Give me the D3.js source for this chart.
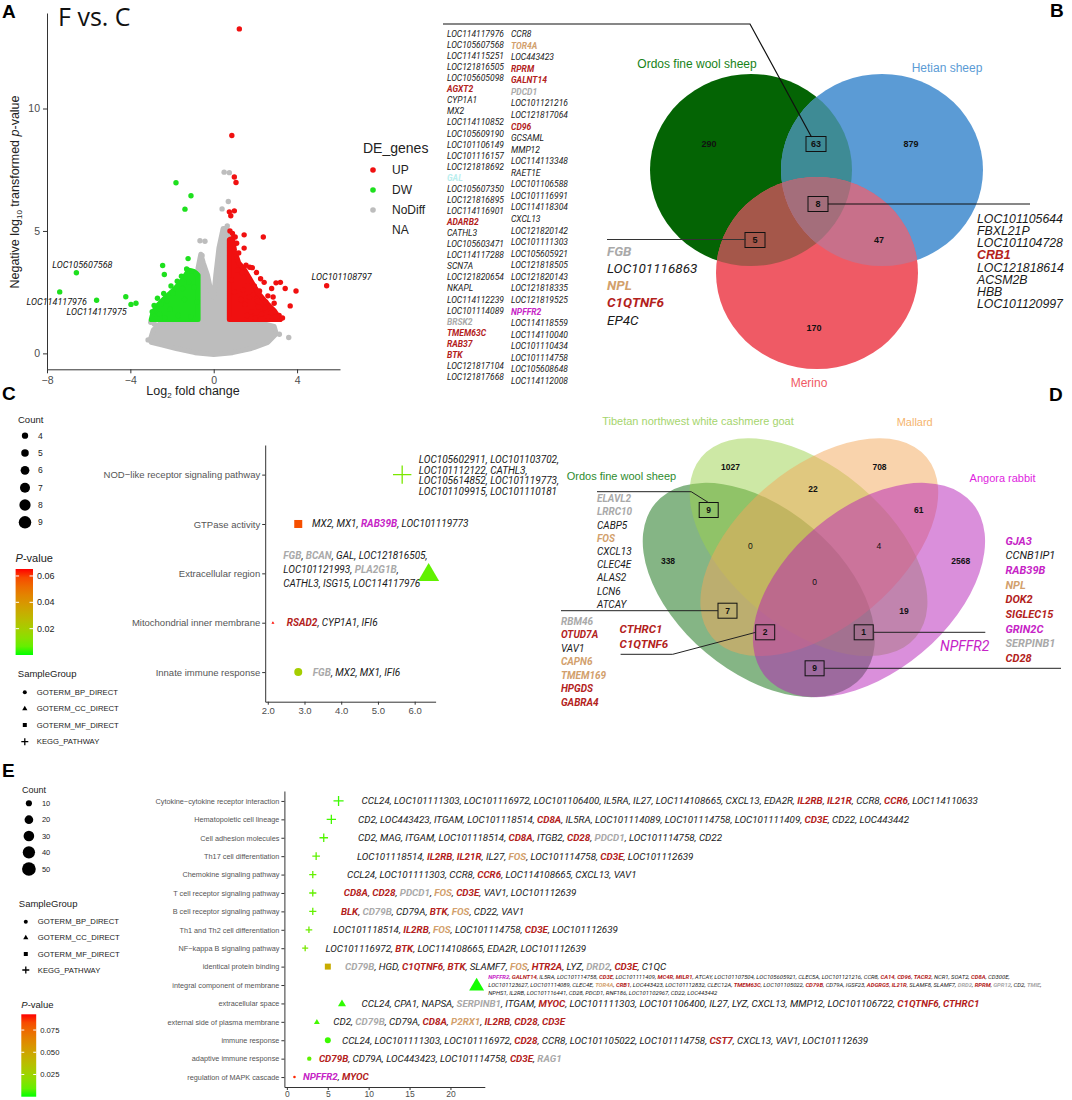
<!DOCTYPE html>
<html>
<head>
<meta charset="utf-8">
<script src="https://cdn.jsdelivr.net/npm/d3@7"></script>
<style>
  body { margin: 0; background: #fff; }
  text { font-family: "Liberation Sans", Arial, sans-serif; }
  .gene { font-family: Roboto, "Liberation Sans", sans-serif; font-style: italic; }
</style>
</head>
<body>
<svg id="fig" width="1072" height="1100"></svg>
<script>
// ---------------- data ----------------
// A: volcano (log2 fold change, -log10 p)
const upPoints = [[1.23,13.25],[0.87,8.9],[0.99,7.2],[1.07,6.98],[0.75,5.78],[0.99,5.82],[0.82,5.62],[0.78,5.0],
  [1.03,4.75],[1.46,4.84],[2.38,4.75],[1.46,4.3],[1.73,3.52],[1.85,3.5],[5.42,2.76],[3.95,2.55],[3.43,2.65],
  [2.99,2.88],[3.2,2.9],[3.67,1.94],[3.14,1.55],[2.42,2.9],[2.78,2.65],[2.05,3.3],[2.25,3.05],[1.95,2.75],
  [2.6,2.35],[2.9,2.05],[2.45,1.85],[2.1,2.15],[1.65,2.95],[1.35,3.3],[2.2,2.55],[2.75,1.65],[1.8,1.7],
  [3.0,1.5],[2.6,1.5],[2.3,1.6],[1.55,3.6],[1.2,4.1],[1.1,4.5],[0.9,4.9],[1.3,2.2],[1.0,2.5],[1.5,2.0],
  [1.7,2.3],[2.0,1.45],[2.85,2.3],[2.5,2.1],[3.3,1.45],[2.15,1.9],[1.9,2.4],[1.4,2.6],[0.85,3.0],[1.15,3.4],[1.6,1.55]];
const downPoints = [[-1.81,6.97],[-1.09,6.44],[-1.38,5.89],[-1.23,3.87],[-2.45,3.59],[-2.37,3.22],[-6.59,3.29],
  [-7.39,2.51],[-5.62,2.17],[-4.22,2.31],[-3.97,2.0],[-3.73,2.05],[-2.86,1.96],[-1.3,3.45],[-1.05,3.35],
  [-0.85,3.25],[-1.55,3.15],[-1.75,2.95],[-2.05,2.75],[-1.5,2.65],[-2.4,2.45],[-2.7,2.25],[-2.25,2.15],
  [-2.95,1.7],[-2.6,1.6],[-2.35,1.45],[-1.95,2.45],[-1.2,2.9],[-0.95,2.7],[-2.1,1.8],[-1.7,1.55],[-1.1,1.5],
  [-2.55,2.0],[-1.4,2.2],[-0.8,2.1]];
const noDiffPoints = [[0.5,7.4],[0.75,7.38],[0.7,6.2],[0.4,5.9],[-0.66,4.6],[-0.42,4.58],[-0.56,4.0],
  [-3.15,0.55],[3.15,0.78],[3.6,0.65],[-3.02,1.27],[0.65,5.2],[-2.85,1.2]];
// outlines of the dense point clouds
const noDiffHull = [[-3.05,0.55],[-2.9,0.95],[-2.6,1.2],[-2.0,1.35],[-0.8,1.4],[-0.75,3.5],[-0.62,4.05],[-0.5,3.7],
  [-0.3,3.2],[-0.15,2.6],[0,2.3],[0.1,3.2],[0.25,4.3],[0.45,5.1],[0.6,5.1],[0.72,4.6],[0.75,1.35],[2.0,1.3],
  [2.9,1.1],[3.0,0.8],[2.6,0.45],[1.8,0.2],[0.9,0.03],[0,-0.05],[-0.9,0.03],[-1.8,0.2],[-2.5,0.35],[-3.0,0.45]];
const upHull = [[0.75,1.38],[0.75,4.65],[0.9,4.7],[1.0,4.2],[1.2,3.7],[1.45,3.45],[1.7,3.1],[1.9,2.8],
  [2.2,2.4],[2.6,2.0],[2.9,1.75],[3.2,1.38]];
const downHull = [[-0.75,1.38],[-0.75,3.2],[-0.95,3.35],[-1.2,3.4],[-1.5,3.0],[-1.9,2.6],[-2.3,2.3],
  [-2.65,2.0],[-2.9,1.7],[-3.0,1.38]];
const namedGenes = ["LOC105607568","LOC114117976","LOC114117975","LOC101108797"];
const namedFc = [-6.59,-7.39,-5.62,5.42];
const namedP = [3.29,2.51,2.17,2.76];
const deClasses = ["UP","DW","NoDiff","NA"];

// 63 genes shared by Ordos fine wool sheep and Hetian sheep ("|r" red, "|t" tan, "|g" grey, "|m" magenta, "|c" cyan)
const shared63a = ["LOC114117976","LOC105607568","LOC114115251","LOC121816505","LOC105605098","AGXT2|r","CYP1A1","MX2",
  "LOC114110852","LOC105609190","LOC101106149","LOC101116157","LOC121818692","GAL|c","LOC105607350","LOC121816895",
  "LOC114116901","ADARB2|r","CATHL3","LOC105603471","LOC114117288","SCN7A","LOC121820654","NKAPL","LOC114112239",
  "LOC101114089","BRSK2|g","TMEM63C|r","RAB37|r","BTK|r","LOC121817104","LOC121817668"];
const shared63b = ["CCR8","TOR4A|t","LOC443423","RPRM|r","GALNT14|r","PDCD1|g","LOC101121216","LOC121817064","CD96|r",
  "GCSAML","MMP12","LOC114113348","RAET1E","LOC101106588","LOC101116991","LOC114118304","CXCL13","LOC121820142",
  "LOC101111303","LOC105605921","LOC121818505","LOC121820143","LOC121818335","LOC121819525","NPFFR2|m",
  "LOC114118559","LOC114110040","LOC101110434","LOC101114758","LOC105608648","LOC114112008"];

// B: three-set Venn
const vennBSets = ["Ordos fine wool sheep","Hetian sheep","Merino"];
const vennBCounts = [290, 63, 879, 8, 5, 47, 170];
const vennB5Genes = ["FGB|g","LOC101116863","NPL|t","C1QTNF6|r","EP4C"];
const vennB8Genes = ["LOC101105644","FBXL21P","LOC101104728","CRB1|r","LOC121818614","ACSM2B","HBB","LOC101120997"];

// D: four-set Venn
const vennDSets = ["Ordos fine wool sheep","Tibetan northwest white cashmere goat","Mallard","Angora rabbit"];
const vennDCounts = [1027, 708, 22, 61, 9, 0, 4, 338, 2568, 0, 19, 7, 2, 1, 9];
const vennD9Genes = ["ELAVL2|g","LRRC10|g","CABP5","FOS|t","CXCL13","CLEC4E","ALAS2","LCN6","ATCAY"];
const vennD7Genes = ["RBM46|g","OTUD7A|r","VAV1","CAPN6|t","TMEM169|t","HPGDS|r","GABRA4|r"];
const vennD2Genes = ["CTHRC1|r","C1QTNF6|r"];
const vennD1Genes = ["NPFFR2|m"];
const vennD9bGenes = ["GJA3|m","CCNB1IP1","RAB39B|m","NPL|t","DOK2|r","SIGLEC15|r","GRIN2C|m","SERPINB1|g","CD28|r"];

// C / E: enrichment
const BP = "GOTERM_BP_DIRECT", CC = "GOTERM_CC_DIRECT", MF = "GOTERM_MF_DIRECT", KG = "KEGG_PATHWAY";
const sampleGroups = [BP, CC, MF, KG];

const cTerms = ["NOD−like receptor signaling pathway","GTPase activity","Extracellular region",
  "Mitochondrial inner membrane","Innate immune response"];
const cGroup = [KG, MF, CC, CC, BP];
const cEnrich = [5.66, 2.83, 6.38, 2.14, 2.83];
const cCount = [8, 4, 9, 3, 4];
const cPval = [0.010, 0.058, 0.006, 0.065, 0.020];
const cGenes = [
  [["LOC105602911","LOC101103702"],["LOC101112122","CATHL3"],["LOC105614852","LOC101119773"],["LOC101109915","LOC101110181"]],
  [["MX2","MX1","RAB39B|m","LOC101119773"]],
  [["FGB|g","BCAN|g","GAL","LOC121816505"],["LOC101121993","PLA2G1B|g"],["CATHL3","ISG15","LOC114117976"]],
  [["RSAD2|r","CYP1A1","IFI6"]],
  [["FGB|g","MX2","MX1","IFI6"]]
];
const cCountTicks = [4, 5, 6, 7, 8, 9];
const cPTicks = [0.02, 0.04, 0.06];
const cXTicks = [2, 3, 4, 5, 6];

const eTerms = ["Cytokine−cytokine receptor interaction","Hematopoietic cell lineage","Cell adhesion molecules",
  "Th17 cell differentiation","Chemokine signaling pathway","T cell receptor signaling pathway",
  "B cell receptor signaling pathway","Th1 and Th2 cell differentiation","NF−kappa B signaling pathway",
  "identical protein binding","integral component of membrane","extracellular space",
  "external side of plasma membrane","immune response","adaptive immune response","regulation of MAPK cascade"];
const eGroup = [KG, KG, KG, KG, KG, KG, KG, KG, KG, MF, CC, CC, CC, BP, BP, BP];
const eEnrich = [6.32, 5.44, 4.51, 3.58, 3.17, 3.17, 3.17, 2.70, 2.24, 5.01, 23.2, 6.74, 3.67, 5.01, 2.74, 0.93];
const eCount = [14, 12, 10, 8, 7, 7, 7, 6, 5, 11, 52, 15, 8, 11, 6, 2];
const ePval = [0.003, 0.004, 0.006, 0.008, 0.009, 0.009, 0.009, 0.011, 0.014, 0.046, 0.0005, 0.002, 0.004, 0.003, 0.008, 0.09];
const eGenes = [
  [["CCL24","LOC101111303","LOC101116972","LOC101106400","IL5RA","IL27","LOC114108665","CXCL13","EDA2R","IL2RB|r","IL21R|r","CCR8","CCR6|r","LOC114110633"]],
  [["CD2","LOC443423","ITGAM","LOC101118514","CD8A|r","IL5RA","LOC101114089","LOC101114758","LOC101111409","CD3E|r","CD22","LOC443442"]],
  [["CD2","MAG","ITGAM","LOC101118514","CD8A|r","ITGB2","CD28|r","PDCD1|g","LOC101114758","CD22"]],
  [["LOC101118514","IL2RB|r","IL21R|r","IL27","FOS|t","LOC101114758","CD3E|r","LOC101112639"]],
  [["CCL24","LOC101111303","CCR8","CCR6|r","LOC114108665","CXCL13","VAV1"]],
  [["CD8A|r","CD28|r","PDCD1|g","FOS|t","CD3E|r","VAV1","LOC101112639"]],
  [["BLK|r","CD79B|g","CD79A","BTK|r","FOS|t","CD22","VAV1"]],
  [["LOC101118514","IL2RB|r","FOS|t","LOC101114758","CD3E|r","LOC101112639"]],
  [["LOC101116972","BTK|r","LOC114108665","EDA2R","LOC101112639"]],
  [["CD79B|g","HGD","C1QTNF6|r","BTK|r","SLAMF7","FOS|t","HTR2A|r","LYZ","DRD2|g","CD3E|r","C1QC"]],
  [["NPFFR2|m","GALNT14|r","IL5RA","LOC101114758","CD3E|r","LOC101111409","MC4R|r","MILR1|r","ATCAY","LOC101107504",
    "LOC105605921","CLEC5A","LOC101121216","CCR8","CA14|r","CD96|r","TACR2|r","NCR1","SOAT2","CD8A|r","CD300E"],
   ["LOC101123627","LOC101114089","CLEC4E","TOR4A|t","CRB1|r","LOC443423","LOC101112832","CLEC12A","TMEM63C|r",
    "LOC101105022","CD79B|r","CD79A","IGSF23","ADGRG5|r","IL21R|r","SLAMF8","SLAMF7","DRD2|g","RPRM|r","GPR12|g","CD2","TMIE|g"],
   ["NPHS1","IL2RB","LOC101116441","CD28","PDCD1","RNF186","LOC101102967","CD22","LOC443442"]],
  [["CCL24","CPA1","NAPSA","SERPINB1|g","ITGAM","MYOC|r","LOC101111303","LOC101106400","IL27","LYZ","CXCL13","MMP12","LOC101106722","C1QTNF6|r","CTHRC1|r"]],
  [["CD2","CD79B|g","CD79A","CD8A|r","P2RX1|t","IL2RB|r","CD28|r","CD3E|r"]],
  [["CCL24","LOC101111303","LOC101116972","CD28|r","CCR8","LOC101105022","LOC101114758","CST7|r","CXCL13","VAV1","LOC101112639"]],
  [["CD79B|r","CD79A","LOC443423","LOC101114758","CD3E|r","RAG1|g"]],
  [["NPFFR2|m","MYOC|r"]]
];
const eCountTicks = [10, 20, 30, 40, 50];
const ePTicks = [0.025, 0.050, 0.075];
const eXTicks = [0, 5, 10, 15, 20];

// ---------------- helpers ----------------
const svg = d3.select("#fig");
const defs = svg.append("defs");
const tagColor = { k: "#1a1a1a", r: "#b3221c", t: "#d2a06c", g: "#a9a9a9", m: "#c624c6", c: "#b9eeee" };

function geneLine(g, x, y, genes, fs, comma, family) {
  const t = g.append("text").attr("x", x).attr("y", y).attr("dy", "0.35em")
    .attr("class", "gene").attr("font-size", fs).attr("fill", tagColor.k);
  if (family) t.style("font-family", family);
  genes.forEach((s, i) => {
    const [name, tag = "k"] = s.split("|");
    t.append("tspan").text(name).attr("fill", tagColor[tag]).attr("font-weight", tag === "k" ? null : "bold");
    if (comma && (i < genes.length - 1 || comma === "trail")) t.append("tspan").text(", ");
  });
  return t;
}

function geneColumn(g, x, y0, y1, genes, fs, family) {
  const y = d3.scalePoint().domain(d3.range(genes.length)).range([y0, y1]);
  genes.forEach((s, i) => geneLine(g, x, y(i), [s], fs, false, family));
}

function panelLetter(t, x, y) {
  svg.append("text").attr("x", x).attr("y", y).attr("font-size", 19).attr("font-weight", "bold").text(t);
}

function styleAxis(a, fs, col) {
  a.select(".domain").attr("stroke", "#333");
  a.selectAll(".tick line").attr("stroke", "#333");
  a.selectAll("text").attr("fill", col || "#4d4d4d").attr("font-size", fs)
    .attr("font-family", "Liberation Sans, Arial, sans-serif");
}

function marker(g, shape, x, y, h, color) {
  if (shape === BP) g.append("circle").attr("cx", x).attr("cy", y).attr("r", h).attr("fill", color);
  else if (shape === CC) g.append("path").attr("d", `M${x - h},${y + h * 0.72}L${x + h},${y + h * 0.72}L${x},${y - h * 0.98}Z`).attr("fill", color);
  else if (shape === MF) g.append("rect").attr("x", x - h).attr("y", y - h).attr("width", 2 * h).attr("height", 2 * h).attr("fill", color);
  else g.append("path").attr("d", `M${x - h},${y}H${x + h}M${x},${y - h}V${y + h}`).attr("stroke", color).attr("stroke-width", 1.3);
}

// ---------------- panel A ----------------
panelLetter("A", 2, 18);
const A = svg.append("g");
const ax = d3.scaleLinear().domain([-8, 6.06]).range([47, 340]);
const ay = d3.scaleLinear().domain([-0.65, 13.9]).range([369.3, 13]);
const deColor = { UP: "#f01010", DW: "#1ee01e", NoDiff: "#bdbdbd" };

A.append("text").attr("x", 58).attr("y", 26).attr("font-size", 25).style("font-family", "Open Sans, sans-serif")
  .attr("fill", "#111").text("F vs. C");

const hullLine = d3.line().x(d => ax(d[0])).y(d => ay(d[1])).curve(d3.curveLinearClosed);
[[noDiffHull, deColor.NoDiff]].forEach(([h, c]) =>
  A.append("path").attr("d", hullLine(h)).attr("fill", c).attr("stroke", c).attr("stroke-width", 5).attr("stroke-linejoin", "round"));
A.append("g").selectAll("circle").data(noDiffPoints).join("circle")
  .attr("cx", d => ax(d[0])).attr("cy", d => ay(d[1])).attr("r", 2.7).attr("fill", deColor.NoDiff);
[[downHull, deColor.DW], [upHull, deColor.UP]].forEach(([h, c]) =>
  A.append("path").attr("d", hullLine(h)).attr("fill", c).attr("stroke", c).attr("stroke-width", 5).attr("stroke-linejoin", "round"));
A.append("g").selectAll("circle").data(downPoints).join("circle")
  .attr("cx", d => ax(d[0])).attr("cy", d => ay(d[1])).attr("r", 2.7).attr("fill", deColor.DW);
A.append("g").selectAll("circle").data(upPoints).join("circle")
  .attr("cx", d => ax(d[0])).attr("cy", d => ay(d[1])).attr("r", 2.7).attr("fill", deColor.UP);

// gene names next to the extreme points
const nameOffset = [[6, -5, "middle"], [-3, 13, "middle"], [0, 15, "middle"], [15, -6, "middle"]];
namedGenes.forEach((n, i) => {
  A.append("text").attr("class", "gene").attr("font-size", 9).attr("fill", "#111")
    .attr("text-anchor", nameOffset[i][2])
    .attr("x", ax(namedFc[i]) + nameOffset[i][0]).attr("y", ay(namedP[i]) + nameOffset[i][1]).text(n);
});

const axA = A.append("g").attr("transform", "translate(0,369.3)")
  .call(d3.axisBottom(ax).tickValues([-8, -4, 0, 4]).tickSize(4).tickSizeOuter(0));
const ayA = A.append("g").attr("transform", "translate(47,0)")
  .call(d3.axisLeft(ay).tickValues([0, 5, 10]).tickSize(4).tickSizeOuter(0));
styleAxis(axA, 10.5); styleAxis(ayA, 10.5);

const xl = A.append("text").attr("x", 193).attr("y", 395).attr("text-anchor", "middle").attr("font-size", 12.5).attr("fill", "#222");
xl.append("tspan").text("Log");
xl.append("tspan").text("2").attr("font-size", 8).attr("dy", 3);
xl.append("tspan").text(" fold change").attr("dy", -3);
const yl = A.append("text").attr("transform", "translate(19,192) rotate(-90)").attr("text-anchor", "middle")
  .attr("font-size", 12.5).attr("fill", "#222");
yl.append("tspan").text("Negative log");
yl.append("tspan").text("10").attr("font-size", 8).attr("dy", 3);
yl.append("tspan").text(" transformed ").attr("dy", -3);
yl.append("tspan").text("p").attr("font-style", "italic");
yl.append("tspan").text("-value");

// legend
A.append("text").attr("x", 363).attr("y", 153).attr("font-size", 14).attr("fill", "#222").text("DE_genes");
const legY = d3.scalePoint().domain(deClasses).range([170, 230]);
deClasses.forEach(c => {
  if (deColor[c]) A.append("circle").attr("cx", 373).attr("cy", legY(c)).attr("r", 2.8).attr("fill", deColor[c]);
  A.append("text").attr("x", 392).attr("y", legY(c)).attr("dy", "0.35em").attr("font-size", 12).attr("fill", "#222").text(c);
});

// ---------------- gene column + panel B ----------------
panelLetter("B", 1050, 17);
const B = svg.append("g");
geneColumn(B, 447, 34, 377, shared63a, 8.5);
geneColumn(B, 511, 34, 381, shared63b, 8.5);

const bGeo = [{ cx: 751, cy: 170 }, { cx: 882, cy: 170 }, { cx: 817, cy: 273 }];
const bRx = 101, bRy = 96;
const bColor = ["#046404", "#5b9bd5", "#ef5a65"];
const bMix = { GB: "#3e8b95", GR: "#a5574a", BR: "#c8708a", GBR: "#a46e7b" };
bGeo.forEach((c, i) => defs.append("clipPath").attr("id", "bclip" + i)
  .append("ellipse").attr("cx", c.cx).attr("cy", c.cy).attr("rx", bRx).attr("ry", bRy));
function bEllipse(g, i, fill, clip) {
  const e = g.append("ellipse").attr("cx", bGeo[i].cx).attr("cy", bGeo[i].cy).attr("rx", bRx).attr("ry", bRy).attr("fill", fill);
  if (clip != null) e.attr("clip-path", `url(#bclip${clip})`);
  return e;
}
bColor.forEach((c, i) => bEllipse(B, i, c));
bEllipse(B, 1, bMix.GB, 0);
bEllipse(B, 2, bMix.GR, 0);
bEllipse(B, 2, bMix.BR, 1);
bEllipse(B.append("g").attr("clip-path", "url(#bclip0)"), 2, bMix.GBR, 1);

const bLabelPos = [[697, 68, "#178217"], [947, 72, bColor[1]], [809, 387, bColor[2]]];
vennBSets.forEach((s, i) => B.append("text").attr("x", bLabelPos[i][0]).attr("y", bLabelPos[i][1])
  .attr("text-anchor", "middle").attr("font-size", 12).attr("fill", bLabelPos[i][2]).text(s));

const bCountPos = [[709, 144, 0], [816, 144, 1], [911, 144, 0], [818, 204, 1], [755, 240, 1], [879, 240, 0], [814, 328, 0]];
vennBCounts.forEach((v, i) => {
  const [x, y, boxed] = bCountPos[i];
  if (boxed) B.append("rect").attr("x", x - 10).attr("y", y - 7.5).attr("width", 20).attr("height", 15)
    .attr("fill", "none").attr("stroke", "#111").attr("stroke-width", 1);
  B.append("text").attr("x", x).attr("y", y).attr("dy", "0.35em").attr("text-anchor", "middle")
    .attr("font-size", 9).attr("font-weight", "bold").attr("fill", "#111").text(v);
});
B.append("path").attr("d", "M443,24H750L811.5,137").attr("fill", "none").attr("stroke", "#111").attr("stroke-width", 1.2);
B.append("path").attr("d", "M607,239.5H746").attr("fill", "none").attr("stroke", "#333").attr("stroke-width", 1.2);
B.append("path").attr("d", "M828,204H1030").attr("fill", "none").attr("stroke", "#111").attr("stroke-width", 1);
geneColumn(B, 607, 251, 320, vennB5Genes, 13.5);
geneColumn(B, 977, 218.3, 304, vennB8Genes, 12.3, "Liberation Sans, Arial, sans-serif");

// ---------------- panel C / E (enrichment dot plots) ----------------
function enrichPanel(cfg) {
  const g = svg.append("g");
  const x = d3.scaleLinear().domain(cfg.xDomain).range(cfg.xRange);
  const y = d3.scalePoint().domain(cfg.terms).range(cfg.yRange).padding(cfg.pad);
  const color = d3.scaleSequential(d3.interpolateLab("#00ff00", "#ff0000")).domain(cfg.pDomain);
  const xa = g.append("g").attr("transform", `translate(0,${cfg.yRange[1]})`)
    .call(d3.axisBottom(x).tickValues(cfg.xTicks).tickSize(3).tickSizeOuter(0).tickPadding(cfg.tickPad));
  const ya = g.append("g").attr("transform", `translate(${cfg.xRange[0]},0)`)
    .call(d3.axisLeft(y).tickSize(3).tickSizeOuter(0).tickPadding(2));
  styleAxis(xa, cfg.tickFs); styleAxis(ya, cfg.termFs, "#555");

  cfg.terms.forEach((t, i) => {
    marker(g, cfg.group[i], x(cfg.enrich[i]), y(t), cfg.size(cfg.count[i]) * cfg.mult[cfg.group[i]], color(cfg.pval[i]));
    const lines = cfg.genes[i];
    const lead = cfg.noteLead[i];
    lines.forEach((ln, j) => {
      const yy = y(t) + cfg.noteDy[i] + (j - (lines.length - 1) / 2) * lead;
      geneLine(g, cfg.noteX[i], yy, ln, cfg.noteFs[i], j < lines.length - 1 ? "trail" : true);
    });
  });
  return { x, y, color };
}

function countLegend(x, titleY, ys, counts, rOf, titleFs, fs) {
  svg.append("text").attr("x", x - 7).attr("y", titleY).attr("dy", "0.35em").attr("font-size", titleFs).attr("fill", "#222").text("Count");
  counts.forEach((c, i) => {
    svg.append("circle").attr("cx", x).attr("cy", ys[i]).attr("r", rOf(c)).attr("fill", "#000");
    svg.append("text").attr("x", x + 13).attr("y", ys[i]).attr("dy", "0.35em").attr("font-size", fs).attr("fill", "#222").text(c);
  });
}

function groupLegend(x, titleY, ys, titleFs, fs) {
  svg.append("text").attr("x", x - 7).attr("y", titleY).attr("dy", "0.35em").attr("font-size", titleFs).attr("fill", "#222").text("SampleGroup");
  sampleGroups.forEach((s, i) => {
    const h = s === KG ? 3.5 : s === CC ? 2.6 : 2;
    marker(svg, s, x, ys[i], h, "#000");
    svg.append("text").attr("x", x + 12).attr("y", ys[i]).attr("dy", "0.35em").attr("font-size", fs).attr("fill", "#222").text(s);
  });
}

function pLegend(id, x, w, y0, y1, titleY, pDomain, ticks, fmt, titleFs, fs) {
  const t = svg.append("text").attr("x", x).attr("y", titleY).attr("dy", "0.35em").attr("font-size", titleFs).attr("fill", "#222");
  t.append("tspan").text("P").attr("font-style", "italic");
  t.append("tspan").text("-value");
  const interp = d3.interpolateLab("#00ff00", "#ff0000");
  const grad = defs.append("linearGradient").attr("id", id).attr("x1", 0).attr("y1", 1).attr("x2", 0).attr("y2", 0);
  d3.range(0, 1.0001, 0.1).forEach(s => grad.append("stop").attr("offset", s).attr("stop-color", interp(s)));
  svg.append("rect").attr("x", x).attr("y", y0).attr("width", w).attr("height", y1 - y0).attr("fill", `url(#${id})`);
  const py = d3.scaleLinear().domain(pDomain).range([y1, y0]);
  ticks.forEach(v => {
    svg.append("path").attr("d", `M${x},${py(v)}h${w / 5}M${x + w},${py(v)}h${-w / 5}`).attr("stroke", "#fff").attr("stroke-width", 1);
    svg.append("text").attr("x", x + w + 4).attr("y", py(v)).attr("dy", "0.35em").attr("font-size", fs).attr("fill", "#222").text(d3.format(fmt)(v));
  });
}

// panel C
panelLetter("C", 2, 400);
enrichPanel({
  terms: cTerms, group: cGroup, enrich: cEnrich, count: cCount, pval: cPval, genes: cGenes,
  xDomain: [1.93, 6.57], xRange: [265.2, 435.6], yRange: [445, 701.7], pad: 0.6,
  xTicks: cXTicks, tickFs: 9.5, tickPad: 3, termFs: 9.5, pDomain: [0, 0.0653],
  size: d3.scaleLinear().domain([3, 4, 9]).range([1.5, 4, 10.5]),
  mult: { [BP]: 1, [CC]: 1, [MF]: 1, [KG]: 1 },
  noteX: [418.8, 312, 283.3, 286.8, 312.8], noteLead: [10.6, 0, 14.2, 0, 0], noteDy: [1, 0, -4, 0, 0],
  noteFs: [10, 10, 10, 10, 10]
});
countLegend(25, 420, [435.7, 453, 470.3, 487.7, 505, 522.3], cCountTicks,
  d3.scaleLinear().domain([4, 9]).range([3.15, 6.25]), 9.5, 8.5);
pLegend("gradC", 15.6, 17.4, 569, 655, 558.3, [0, 0.0653], cPTicks, ".2f", 11, 9);
groupLegend(24.8, 674, [692.3, 708.3, 725, 741.7], 9.5, 7.7);

// panel E
panelLetter("E", 2, 777);
enrichPanel({
  terms: eTerms, group: eGroup, enrich: eEnrich, count: eCount, pval: ePval, genes: eGenes,
  xDomain: [-0.3, 24.2], xRange: [284.4, 484.8], yRange: [791, 1087], pad: 0.54,
  xTicks: eXTicks, tickFs: 8.5, tickPad: 1, termFs: 7.3, pDomain: [0, 0.0927],
  size: d3.scaleSqrt().domain([0, 52]).range([0, 6.5]),
  mult: { [BP]: 1, [CC]: 1.15, [MF]: 1, [KG]: 1.5 },
  noteX: [361.6, 358, 358, 357, 347, 343.7, 340.9, 333.3, 325.4, 345, 488.3, 361.6, 333.3, 342, 318.9, 303],
  noteLead: eTerms.map((t, i) => (i === 10 ? 8 : 0)), noteDy: eTerms.map(() => 0),
  noteFs: eTerms.map((t, i) => (i === 10 ? 5.9 : 9.8))
});
countLegend(28.9, 790, [803.3, 819.7, 836, 852.3, 869], eCountTicks,
  d3.scaleSqrt().domain([0, 52]).range([0, 7]), 9, 7.5);
groupLegend(25.8, 903.3, [921.7, 937.3, 954, 970], 9.5, 7.7);
pLegend("gradE", 21.3, 14.9, 1014.3, 1096.7, 1005, [0, 0.0927], ePTicks, ".3f", 9.5, 7.7);

// ---------------- panel D ----------------
panelLetter("D", 1049, 401);
const D = svg.append("g");
const dGeo = [
  { cx: 758.8, cy: 590, a: 135, b: 82, rot: 40, fill: "#0b6b0b" },
  { cx: 808.5, cy: 547.2, a: 140, b: 80, rot: 40, fill: "#9bd24b" },
  { cx: 819.3, cy: 547.2, a: 140, b: 80, rot: -40, fill: "#f4a85a" },
  { cx: 869, cy: 590, a: 135, b: 82, rot: -40, fill: "#b51fb8" }
];
dGeo.forEach(e => D.append("ellipse").attr("rx", e.a).attr("ry", e.b)
  .attr("transform", `translate(${e.cx},${e.cy}) rotate(${e.rot})`).attr("fill", e.fill).attr("fill-opacity", 0.5));

const dLabelPos = [[621.4, 480, "#2e8b2e"], [698, 424.5, "#a5d56d"], [914.7, 426, "#f5b46e"], [1002.6, 482, "#e01ee0"]];
vennDSets.forEach((s, i) => D.append("text").attr("x", dLabelPos[i][0]).attr("y", dLabelPos[i][1])
  .attr("text-anchor", "middle").attr("font-size", 11).attr("fill", dLabelPos[i][2]).text(s));

const dCountPos = [[730.5, 467.3, 0, 1], [879.5, 467.3, 0, 1], [812.9, 488.7, 0, 1], [918.8, 510.3, 0, 1],
  [708.7, 510, 1, 1], [750.4, 545.7, 0, 0], [878.8, 545.7, 0, 0], [668, 560.7, 0, 1], [960.8, 560.7, 0, 1],
  [814.6, 582.3, 0, 0], [904, 610.7, 0, 1], [727.5, 610.7, 1, 1], [765.2, 632.3, 1, 1], [863.7, 632.3, 1, 1],
  [814.6, 668.3, 1, 1]];
vennDCounts.forEach((v, i) => {
  const [x, y, boxed, bold] = dCountPos[i];
  if (boxed) D.append("rect").attr("x", x - 9.5).attr("y", y - 7.5).attr("width", 19).attr("height", 15)
    .attr("fill", "none").attr("stroke", "#111").attr("stroke-width", 1);
  D.append("text").attr("x", x).attr("y", y).attr("dy", "0.35em").attr("text-anchor", "middle")
    .attr("font-size", 8.5).attr("font-weight", bold ? "bold" : null).attr("fill", "#111").text(v);
});
["M597,491.7H691.2L708.7,502.7", "M561,610.7H718", "M755.8,632.3L672.7,654.3H620.6",
 "M873.7,632.3H985.3", "M824,668.3H1061"].forEach(p =>
  D.append("path").attr("d", p).attr("fill", "none").attr("stroke", "#222").attr("stroke-width", 1));

geneColumn(D, 597, 498.7, 604.3, vennD9Genes, 10);
geneColumn(D, 561, 621, 702, vennD7Genes, 10);
geneColumn(D, 619.6, 628.7, 644.3, vennD2Genes, 11.5);
geneColumn(D, 1005.5, 540.7, 658, vennD9bGenes, 11);
D.append("text").attr("class", "gene").attr("x", 940).attr("y", 645.7).attr("dy", "0.35em")
  .attr("font-size", 14).attr("fill", tagColor.m).text(vennD1Genes[0].split("|")[0]);
</script>
</body>
</html>
